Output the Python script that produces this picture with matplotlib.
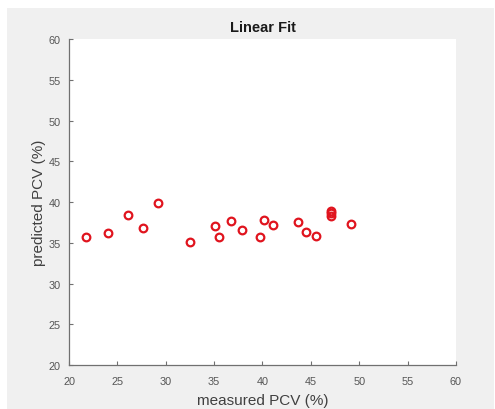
import matplotlib
matplotlib.use("Agg")
import matplotlib.pyplot as plt
from matplotlib.patches import Rectangle

# ================> Data
measured_pcv = [21.8, 24.0, 26.1, 27.6, 29.2, 32.5, 35.1, 35.5, 36.7, 37.9,
                39.7, 40.2, 41.1, 43.7, 44.5, 45.5, 47.1, 47.1, 47.1, 49.1]
predicted_pcv = [35.7, 36.2, 38.4, 36.8, 39.9, 35.1, 37.1, 35.7, 37.7, 36.6,
                 35.7, 37.8, 37.2, 37.5, 36.3, 35.8, 38.3, 38.6, 38.9, 37.3]
x_ticks = [20, 25, 30, 35, 40, 45, 50, 55, 60]
y_ticks = [20, 25, 30, 35, 40, 45, 50, 55, 60]

plt.rcParams['font.family'] = ['Liberation Sans', 'DejaVu Sans']

fig = plt.figure(figsize=(4.95, 4.10), dpi=100, facecolor='white')
# gray matlab-like figure background, small white border top/left
fig.patches.append(Rectangle((7 / 495, 0), 487 / 495, 401 / 410,
                             transform=fig.transFigure, facecolor='#f0f0f0',
                             edgecolor='none', zorder=-10))

ax = fig.add_axes([0.1394, 0.1073, 0.7818, 0.7951])
ax.set_facecolor('white')

ax.plot(measured_pcv, predicted_pcv, linestyle='none', marker='o',
        markersize=5.5, markeredgewidth=1.6, markerfacecolor='none',
        markeredgecolor='#e0141e', clip_on=False)

ax.set_xlim(20, 60)
ax.set_ylim(20, 60)
ax.set_xticks(x_ticks)
ax.set_yticks(y_ticks)

for side in ['top', 'right']:
    ax.spines[side].set_visible(False)
for side in ['left', 'bottom']:
    ax.spines[side].set_color('#707070')
    ax.spines[side].set_linewidth(0.9)

ax.tick_params(direction='in', length=3, width=0.8, color='#707070',
               labelcolor='#555555', labelsize=7.8)
ax.tick_params(axis='x', pad=8)
ax.tick_params(axis='y', pad=6)

ax.set_title('Linear Fit', fontsize=10.5, fontweight='bold', color='#1a1a1a', pad=6)
ax.set_xlabel('measured PCV (%)', fontsize=11, color='#404040', labelpad=5)
ax.set_ylabel('predicted PCV (%)', fontsize=11, color='#404040', labelpad=2)

fig.savefig('out.png', dpi=100, facecolor=fig.get_facecolor())
